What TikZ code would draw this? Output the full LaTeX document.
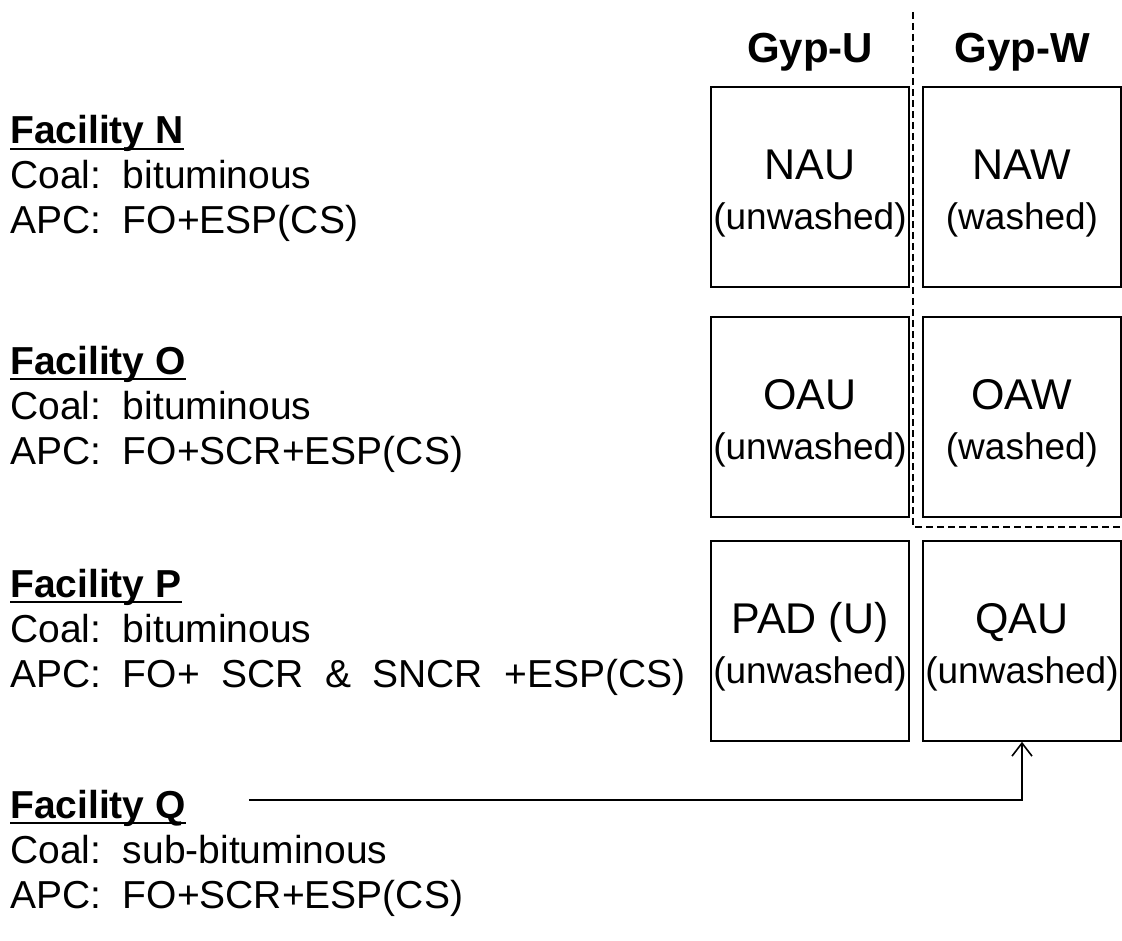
\documentclass[tikz,border=0pt]{standalone}
\usepackage{fontspec}
\setmainfont{Liberation Sans}
\usetikzlibrary{arrows.meta}
\newcommand{\gap}{\hspace{.55em}}
\newcommand{\sname}[1]{{\fontsize{43}{48}\selectfont\rule{0pt}{43pt}#1}}

\begin{document}
\begin{tikzpicture} [x=1pt,y=-1pt]
\tikzset{
 facname/.style={anchor=base west,inner sep=0,font=\fontsize{39}{45}\selectfont\bfseries},
 facinfo/.style={anchor=base west,inner sep=0,align=left,font=\fontsize{39}{45}\selectfont},
 uline/.style={line width=2.6pt},
 gyp/.style={anchor=base,inner sep=0,font=\fontsize{42}{48}\selectfont\bfseries},
 sample/.style={draw,line width=1.6pt,minimum width=198pt,minimum height=200pt,inner sep=0,align=center,font=\fontsize{37}{50}\selectfont},
 split/.style={line width=1.6pt,dash pattern=on 7pt off 4pt},
 feed/.style={line width=1.6pt,-{Straight Barb[length=13pt,width=20pt,line width=1.6pt]}}
}
\useasboundingbox (0,0) rectangle (1122,941);
% facilities
\foreach \f/\y/\coal/\apc in {N/144/bituminous/{FO+ESP(CS)},
  O/374/bituminous/{FO+SCR+ESP(CS)},
  P/597/bituminous/{FO+\gap SCR\gap\&\gap SNCR\gap +ESP(CS)},
  Q/818/sub-bituminous/{FO+SCR+ESP(CS)}} {
 \node[facname] (fac\f) at (10,\y) {Facility \f};
 \draw[uline] ([yshift=-5pt]fac\f.base west) -- ([yshift=-5pt]fac\f.base east);
 \node[facinfo] (info\f) at (10,\y+90) {Coal:\ \ \coal\\APC:\ \ \apc};
}
% gypsum columns
\node[gyp] (gypU) at (810,63) {Gyp-U};
\node[gyp] (gypW) at (1022,63) {Gyp-W};
\node[sample] (NAU) at (810,187) {\sname{NAU}\\(unwashed)};
\node[sample] (NAW) at (1022,187) {\sname{NAW}\\(washed)};
\node[sample] (OAU) at (810,417) {\sname{OAU}\\(unwashed)};
\node[sample] (OAW) at (1022,417) {\sname{OAW}\\(washed)};
\node[sample] (PAD) at (810,641) {\sname{PAD (U)}\\(unwashed)};
\node[sample] (QAU) at (1022,641) {\sname{QAU}\\(unwashed)};
\draw[split] (913,12) -- (913,527) -- (1122,527);
\draw[feed] ([xshift=63pt,yshift=8pt]facQ.east) -| (QAU.south);
\end{tikzpicture}
\end{document}
